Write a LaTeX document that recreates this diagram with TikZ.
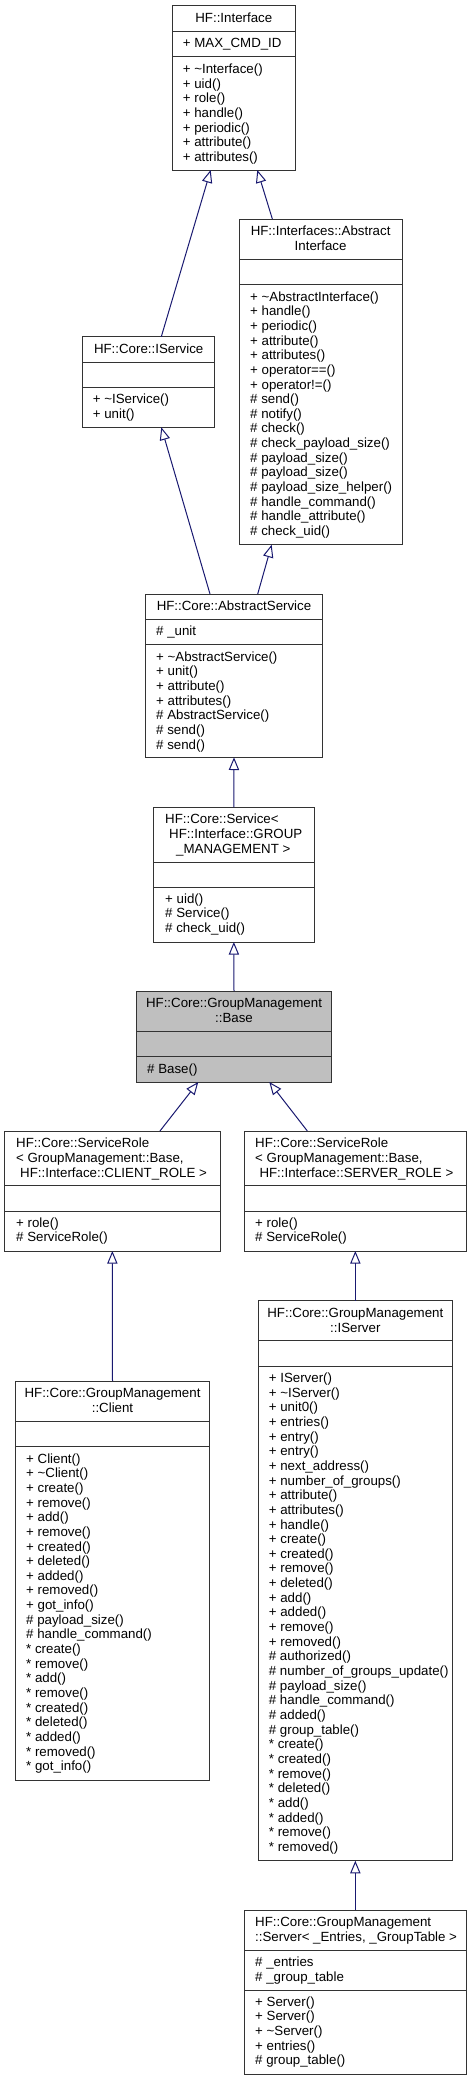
\documentclass[tikz,border=0pt]{standalone}
\usepackage{fontspec}
\setmainfont{Liberation Sans}
\usetikzlibrary{arrows.meta,fit}
\definecolor{edgec}{HTML}{191970}
\definecolor{basefill}{HTML}{BFBFBF}
\tikzset{
  box/.style={draw=black!80, line width=1pt, inner sep=0pt, outer sep=0pt},
  boxline/.style={draw=black!80, line width=1pt},
  txt/.style={font=\fontsize{13.3}{14.65}\selectfont, inner sep=0pt, anchor=base west},
  ctxt/.style={font=\fontsize{13.3}{14.65}\selectfont, inner sep=0pt, anchor=base},
  inh/.style={draw=edgec, line width=1pt, -{Triangle[open, length=12.7pt, width=10.3pt]}}
}
\newcommand\umlbox[8][white]{%
  \node[box, fill=#1, fit={(#3,#4) (#5,#6)}] (#2) {};
  \draw[boxline] (#3,#7) -- (#5,#7);
  \draw[boxline] (#3,#8) -- (#5,#8);}
\newcommand\rows[4]{%
  \foreach \t [count=\i] in {#4} {\node[txt] (#1\i) at (#2,{#3+(\i-1)*14.65}) {\t};}}
\begin{document}
\begin{tikzpicture}[x=1pt,y=-1pt]
\useasboundingbox (0,0) rectangle (472,2080);
% HF::Interface
\umlbox{iface}{172.3}{5.7}{295.3}{170}{31.3}{56.7}
\node[ctxt] (ifaceT) at (233.8,22) {HF::Interface};
\node[txt] (ifaceA) at (182.7,47.3) {+ MAX\_CMD\_ID};
\rows{ifaceM}{182.7}{73.5}{+ \textasciitilde Interface(), + uid(), + role(), + handle(), + periodic(), + attribute(), + attributes()}
% HF::Interfaces::AbstractInterface
\umlbox{absif}{239.3}{219}{402}{544.7}{259}{284.7}
\node[ctxt] (absifT1) at (320.6,235.1) {HF::Interfaces::Abstract};
\node[ctxt] (absifT2) at (320.6,250.1) {Interface};
\rows{absifM}{250}{301.1}{+ \textasciitilde AbstractInterface(), + handle(), + periodic(), + attribute(), + attributes(), + operator==(), + operator!=(), \# send(), \# notify(), \# check(), \# check\_payload\_size(), \# payload\_size(), \# payload\_size(), \# payload\_size\_helper(), \# handle\_command(), \# handle\_attribute(), \# check\_uid()}
% HF::Core::IService
\umlbox{isrv}{82.7}{336.7}{214.7}{427.3}{362}{387.3}
\node[ctxt] (isrvT) at (148.7,353) {HF::Core::IService};
\rows{isrvM}{92.7}{403.5}{+ \textasciitilde IService(), + unit()}
% HF::Core::AbstractService
\umlbox{asrv}{145.3}{594}{322.7}{757.3}{619}{644.7}
\node[ctxt] (asrvT) at (234,610.1) {HF::Core::AbstractService};
\node[txt] (asrvA) at (156,635.5) {\# \_unit};
\rows{asrvM}{156}{661.1}{+ \textasciitilde AbstractService(), + unit(), + attribute(), + attributes(), \# AbstractService(), \# send(), \# send()}
% HF::Core::Service<...>
\umlbox{svc}{153.7}{807.3}{314}{942}{862}{887}
\node[txt] (svcT1) at (165,823.1) {HF::Core::Service<};
\node[txt] (svcT2) at (169,838.1) {HF::Interface::GROUP};
\node[txt] (svcT3) at (176,853.1) {\_MANAGEMENT >};
\rows{svcM}{165}{903.1}{+ uid(), \# Service(), \# check\_uid()}
% HF::Core::GroupManagement::Base
\umlbox[basefill]{base}{136.7}{991}{331.3}{1082}{1031}{1056.7}
\node[ctxt] (baseT1) at (234,1007.1) {HF::Core::GroupManagement};
\node[ctxt] (baseT2) at (234,1022.1) {::Base};
\node[txt] (baseM) at (147,1073.1) {\# Base()};
% ServiceRole CLIENT
\umlbox{src}{4.7}{1131}{220}{1251}{1185.7}{1211}
\node[txt] (srcT1) at (16,1147.1) {HF::Core::ServiceRole};
\node[txt] (srcT2) at (16,1162.1) {< GroupManagement::Base,};
\node[txt] (srcT3) at (20,1177.1) {HF::Interface::CLIENT\_ROLE >};
\rows{srcM}{16}{1227.1}{+ role(), \# ServiceRole()}
% ServiceRole SERVER
\umlbox{srs}{244}{1131}{466.7}{1251}{1185.7}{1211}
\node[txt] (srsT1) at (255,1147.1) {HF::Core::ServiceRole};
\node[txt] (srsT2) at (255,1162.1) {< GroupManagement::Base,};
\node[txt] (srsT3) at (259.3,1177.1) {HF::Interface::SERVER\_ROLE >};
\rows{srsM}{255}{1227.1}{+ role(), \# ServiceRole()}
% Client
\umlbox{cli}{15.3}{1381}{209.7}{1780}{1421}{1446.3}
\node[ctxt] (cliT1) at (112.5,1397.5) {HF::Core::GroupManagement};
\node[ctxt] (cliT2) at (112.5,1412.1) {::Client};
\rows{cliM}{26}{1463.1}{+ Client(), + \textasciitilde Client(), + create(), + remove(), + add(), + remove(), + created(), + deleted(), + added(), + removed(), + got\_info(), \# payload\_size(), \# handle\_command(), * create(), * remove(), * add(), * remove(), * created(), * deleted(), * added(), * removed(), * got\_info()}
% IServer
\umlbox{isv}{258}{1300.7}{452.7}{1860.7}{1340.7}{1366}
\node[ctxt] (isvT1) at (355.3,1317.5) {HF::Core::GroupManagement};
\node[ctxt] (isvT2) at (355.3,1332) {::IServer};
\rows{isvM}{268.7}{1382.5}{+ IServer(), + \textasciitilde IServer(), + unit0(), + entries(), + entry(), + entry(), + next\_address(), + number\_of\_groups(), + attribute(), + attributes(), + handle(), + create(), + created(), + remove(), + deleted(), + add(), + added(), + remove(), + removed(), \# authorized(), \# number\_of\_groups\_update(), \# payload\_size(), \# handle\_command(), \# added(), \# group\_table(), * create(), * created(), * remove(), * deleted(), * add(), * added(), * remove(), * removed()}
% Server
\umlbox{srv}{244}{1910}{466.7}{2074}{1950}{1990.3}
\node[txt] (srvT1) at (255,1926.5) {HF::Core::GroupManagement};
\node[txt] (srvT2) at (255,1941.1) {::Server< \_Entries, \_GroupTable >};
\rows{srvA}{255}{1966.5}{\# \_entries, \# \_group\_table}
\rows{srvM}{255}{2006.1}{+ Server(), + Server(), + \textasciitilde Server(), + entries(), \# group\_table()}
% inheritance edges
\draw[inh] ([xshift=12.6pt]isrv.north) -- ([xshift=-23.1pt]iface.south);
\draw[inh] ([xshift=-48.3pt]absif.north) -- ([xshift=23.5pt]iface.south);
\draw[inh] ([xshift=-24pt]asrv.north) -- ([xshift=12.6pt]isrv.south);
\draw[inh] ([xshift=23.7pt]asrv.north) -- ([xshift=-49pt]absif.south);
\draw[inh] (svc.north) -- (asrv.south);
\draw[inh] (base.north) -- (svc.south);
\draw[inh] ([xshift=47.6pt]src.north) -- ([xshift=-35.7pt]base.south);
\draw[inh] ([xshift=-48pt]srs.north) -- ([xshift=35.3pt]base.south);
\draw[inh] (cli.north) -- (src.south);
\draw[inh] (isv.north) -- (srs.south);
\draw[inh] (srv.north) -- (isv.south);
\end{tikzpicture}
\end{document}
